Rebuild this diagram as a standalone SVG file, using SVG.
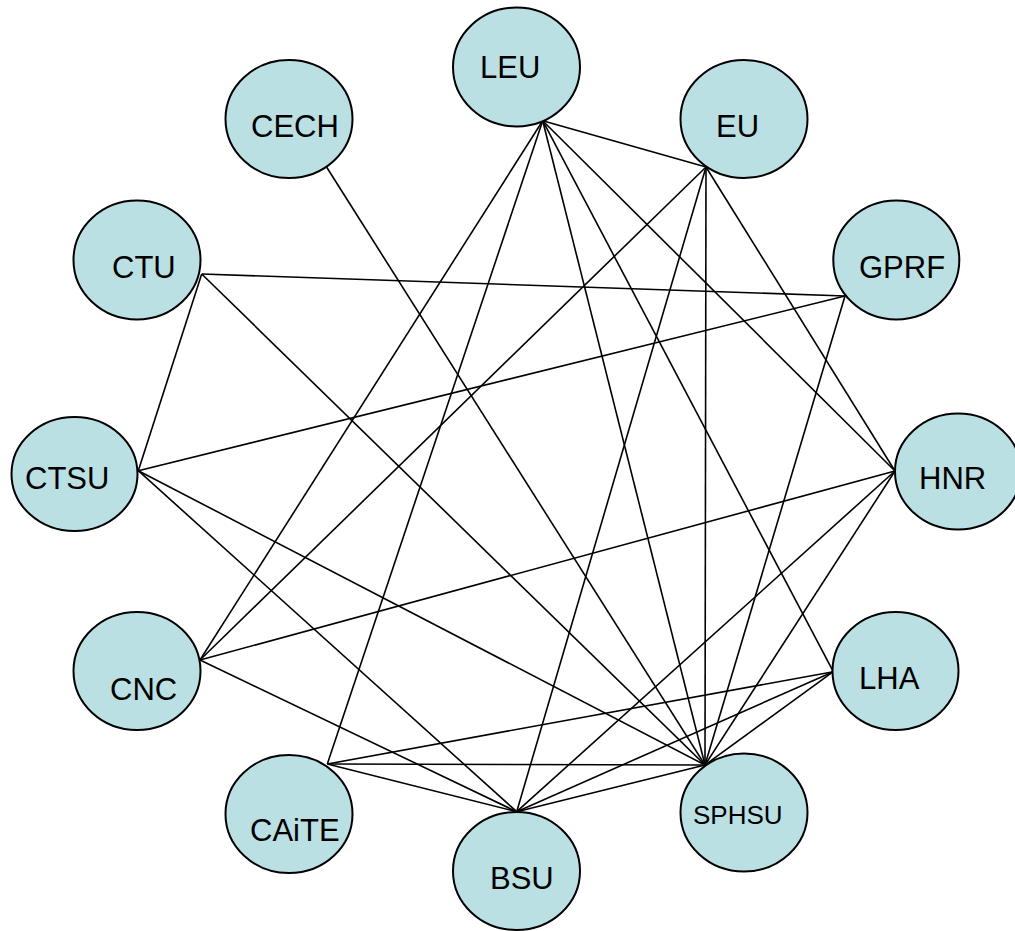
<svg xmlns="http://www.w3.org/2000/svg" width="1015" height="931" viewBox="0 0 1015 931">
<style>
.n ellipse{fill:#BBE0E3;stroke:#000;stroke-width:2}
.n text{font-family:"Liberation Sans",Arial,sans-serif;font-size:31px;fill:#000}
.n text.s{font-size:26px}
#edges line{stroke:#000;stroke-width:1.6}
</style>
<rect width="1015" height="931" fill="#fff"/>
<g id="edges">
<line x1="542.7" y1="120.7" x2="706" y2="167"/>
<line x1="542.7" y1="120.7" x2="200" y2="660"/>
<line x1="542.7" y1="120.7" x2="327.3" y2="764"/>
<line x1="542.7" y1="120.7" x2="705" y2="765"/>
<line x1="542.7" y1="120.7" x2="833.3" y2="671.7"/>
<line x1="542.7" y1="120.7" x2="895" y2="471"/>
<line x1="706" y1="167" x2="200" y2="660"/>
<line x1="706" y1="167" x2="516.7" y2="811.7"/>
<line x1="706" y1="167" x2="705" y2="765"/>
<line x1="706" y1="167" x2="895" y2="471"/>
<line x1="326.7" y1="167.3" x2="705" y2="765"/>
<line x1="201.7" y1="274" x2="845" y2="296"/>
<line x1="201.7" y1="274" x2="138.3" y2="470.7"/>
<line x1="201.7" y1="274" x2="705" y2="765"/>
<line x1="138.3" y1="470.7" x2="845" y2="296"/>
<line x1="138.3" y1="470.7" x2="705" y2="765"/>
<line x1="138.3" y1="470.7" x2="516.7" y2="811.7"/>
<line x1="200" y1="660" x2="895" y2="471"/>
<line x1="200" y1="660" x2="516.7" y2="811.7"/>
<line x1="327.3" y1="764" x2="705" y2="765"/>
<line x1="327.3" y1="764" x2="833.3" y2="671.7"/>
<line x1="327.3" y1="764" x2="516.7" y2="811.7"/>
<line x1="516.7" y1="811.7" x2="705" y2="765"/>
<line x1="516.7" y1="811.7" x2="833.3" y2="671.7"/>
<line x1="516.7" y1="811.7" x2="895" y2="471"/>
<line x1="705" y1="765" x2="845" y2="296"/>
<line x1="705" y1="765" x2="895" y2="471"/>
<line x1="705" y1="765" x2="833.3" y2="671.7"/>
</g>
<g id="LEU" class="n"><ellipse cx="516.5" cy="67" rx="63.5" ry="59.5"/><text x="480" y="78">LEU</text></g>
<g id="EU" class="n"><ellipse cx="744" cy="119" rx="63.5" ry="59"/><text x="716" y="137">EU</text></g>
<g id="CECH" class="n"><ellipse cx="289" cy="119" rx="63.5" ry="59"/><text x="251" y="137">CECH</text></g>
<g id="CTU" class="n"><ellipse cx="137" cy="260" rx="63.5" ry="59.5"/><text x="112" y="278">CTU</text></g>
<g id="CTSU" class="n"><ellipse cx="74.5" cy="474" rx="63" ry="57"/><text x="25" y="489">CTSU</text></g>
<g id="CNC" class="n"><ellipse cx="137" cy="671" rx="63.5" ry="59"/><text x="110" y="700">CNC</text></g>
<g id="CAiTE" class="n"><ellipse cx="289" cy="814" rx="63.5" ry="59"/><text x="250" y="841">CAiTE</text></g>
<g id="BSU" class="n"><ellipse cx="516.5" cy="871" rx="63.5" ry="59"/><text x="490" y="889">BSU</text></g>
<g id="SPHSU" class="n"><ellipse cx="744" cy="812.5" rx="63.5" ry="59"/><text class="s" x="693" y="824">SPHSU</text></g>
<g id="LHA" class="n"><ellipse cx="895.5" cy="671" rx="63" ry="59"/><text x="859" y="689">LHA</text></g>
<g id="HNR" class="n"><ellipse cx="958" cy="471.5" rx="63" ry="58"/><text x="919" y="489">HNR</text></g>
<g id="GPRF" class="n"><ellipse cx="896.3" cy="260" rx="63" ry="59.5"/><text x="859" y="278">GPRF</text></g>
</svg>
